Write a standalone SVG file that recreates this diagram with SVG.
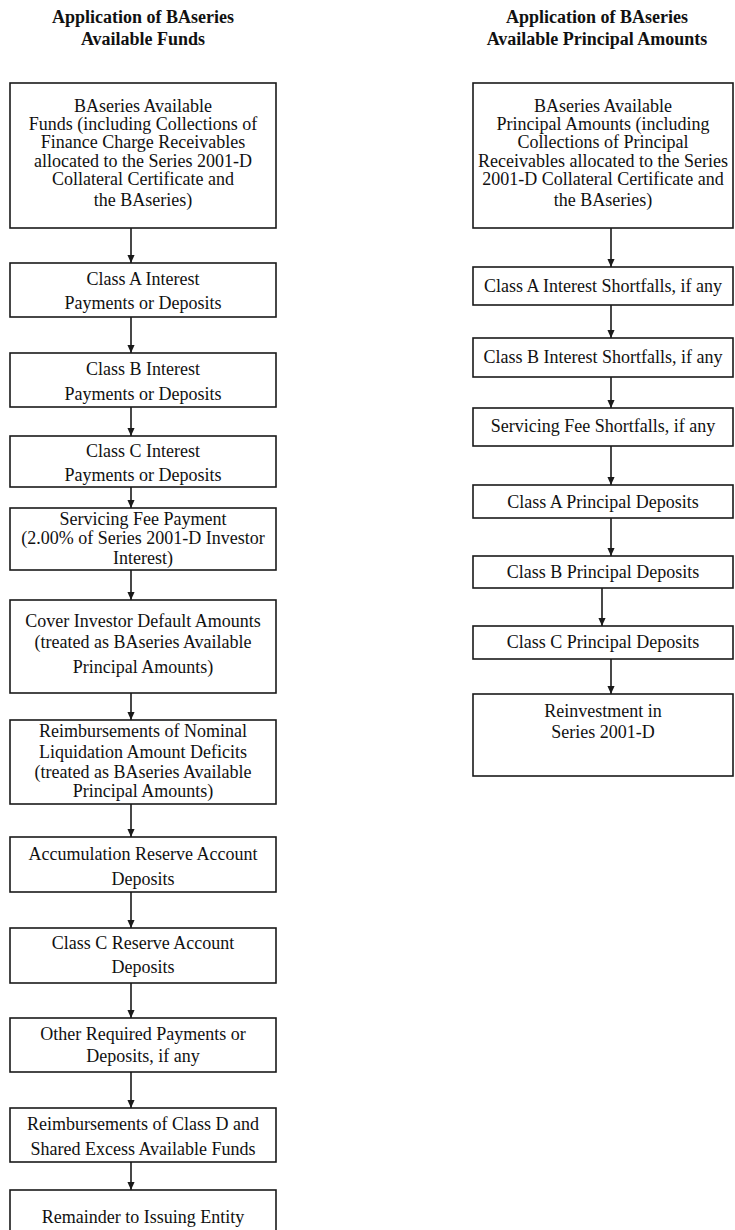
<svg xmlns="http://www.w3.org/2000/svg" width="735" height="1230" viewBox="0 0 735 1230">
<defs>
<style>
.box{fill:#fff;stroke:#1a1a1a;stroke-width:1.6}
.t{font-family:"Liberation Serif","Times New Roman",serif;font-size:18px;fill:#111;text-anchor:middle}
.h{font-family:"Liberation Serif","Times New Roman",serif;font-size:18px;font-weight:bold;fill:#111;text-anchor:middle}
.c{stroke:#1a1a1a;stroke-width:1.6;fill:none}
</style>
<marker id="arr" markerUnits="userSpaceOnUse" markerWidth="8" markerHeight="9" refX="9" refY="4" orient="auto" viewBox="0 0 9 8">
<path d="M0,0 L9,4 L0,8 Z" fill="#1a1a1a"/>
</marker>
</defs>
<rect width="735" height="1230" fill="#fff"/>
<g id="titles">
<text class="h" x="143" y="23">Application of BAseries</text>
<text class="h" x="143" y="45">Available Funds</text>
<text class="h" x="597" y="23">Application of BAseries</text>
<text class="h" x="597" y="45">Available Principal Amounts</text>
</g>
<g id="connectors">
<line class="c" x1="131" y1="228" x2="131" y2="263" marker-end="url(#arr)"/>
<line class="c" x1="131" y1="317" x2="131" y2="353" marker-end="url(#arr)"/>
<line class="c" x1="131" y1="407" x2="131" y2="436" marker-end="url(#arr)"/>
<line class="c" x1="131" y1="487" x2="131" y2="508" marker-end="url(#arr)"/>
<line class="c" x1="131" y1="570" x2="131" y2="600" marker-end="url(#arr)"/>
<line class="c" x1="131" y1="693" x2="131" y2="720" marker-end="url(#arr)"/>
<line class="c" x1="131" y1="804" x2="131" y2="837" marker-end="url(#arr)"/>
<line class="c" x1="131" y1="892" x2="131" y2="928" marker-end="url(#arr)"/>
<line class="c" x1="131" y1="983" x2="131" y2="1018" marker-end="url(#arr)"/>
<line class="c" x1="131" y1="1072" x2="131" y2="1108" marker-end="url(#arr)"/>
<line class="c" x1="131" y1="1162" x2="131" y2="1190" marker-end="url(#arr)"/>
<line class="c" x1="611" y1="228" x2="611" y2="267" marker-end="url(#arr)"/>
<line class="c" x1="611" y1="305" x2="611" y2="338" marker-end="url(#arr)"/>
<line class="c" x1="611" y1="377" x2="611" y2="408" marker-end="url(#arr)"/>
<line class="c" x1="611" y1="446" x2="611" y2="485" marker-end="url(#arr)"/>
<line class="c" x1="611" y1="518" x2="611" y2="556" marker-end="url(#arr)"/>
<line class="c" x1="602" y1="588" x2="602" y2="626" marker-end="url(#arr)"/>
<line class="c" x1="611" y1="659" x2="611" y2="694" marker-end="url(#arr)"/>
</g>
<g id="L1"><rect class="box" x="10" y="83" width="266" height="145"/>
<text class="t" x="143" y="112">BAseries Available</text>
<text class="t" x="143" y="130">Funds (including Collections of</text>
<text class="t" x="143" y="148">Finance Charge Receivables</text>
<text class="t" x="143" y="167">allocated to the Series 2001-D</text>
<text class="t" x="143" y="185">Collateral Certificate and</text>
<text class="t" x="143" y="206">the BAseries)</text></g>
<g id="L2"><rect class="box" x="10" y="263" width="266" height="54"/>
<text class="t" x="143" y="285">Class A Interest</text>
<text class="t" x="143" y="309">Payments or Deposits</text></g>
<g id="L3"><rect class="box" x="10" y="353" width="266" height="54"/>
<text class="t" x="143" y="375">Class B Interest</text>
<text class="t" x="143" y="400">Payments or Deposits</text></g>
<g id="L4"><rect class="box" x="10" y="436" width="266" height="51"/>
<text class="t" x="143" y="457">Class C Interest</text>
<text class="t" x="143" y="481">Payments or Deposits</text></g>
<g id="L5"><rect class="box" x="10" y="508" width="266" height="62"/>
<text class="t" x="143" y="525">Servicing Fee Payment</text>
<text class="t" x="143" y="544">(2.00% of Series 2001-D Investor</text>
<text class="t" x="143" y="564">Interest)</text></g>
<g id="L6"><rect class="box" x="10" y="600" width="266" height="93"/>
<text class="t" x="143" y="627">Cover Investor Default Amounts</text>
<text class="t" x="143" y="648">(treated as BAseries Available</text>
<text class="t" x="143" y="673">Principal Amounts)</text></g>
<g id="L7"><rect class="box" x="10" y="720" width="266" height="84"/>
<text class="t" x="143" y="737">Reimbursements of Nominal</text>
<text class="t" x="143" y="758">Liquidation Amount Deficits</text>
<text class="t" x="143" y="778">(treated as BAseries Available</text>
<text class="t" x="143" y="797">Principal Amounts)</text></g>
<g id="L8"><rect class="box" x="10" y="837" width="266" height="55"/>
<text class="t" x="143" y="860">Accumulation Reserve Account</text>
<text class="t" x="143" y="885">Deposits</text></g>
<g id="L9"><rect class="box" x="10" y="928" width="266" height="55"/>
<text class="t" x="143" y="949">Class C Reserve Account</text>
<text class="t" x="143" y="973">Deposits</text></g>
<g id="L10"><rect class="box" x="10" y="1018" width="266" height="54"/>
<text class="t" x="143" y="1040">Other Required Payments or</text>
<text class="t" x="143" y="1062">Deposits, if any</text></g>
<g id="L11"><rect class="box" x="10" y="1108" width="266" height="54"/>
<text class="t" x="143" y="1130">Reimbursements of Class D and</text>
<text class="t" x="143" y="1155">Shared Excess Available Funds</text></g>
<g id="L12"><rect class="box" x="10" y="1190" width="266" height="60"/>
<text class="t" x="143" y="1223">Remainder to Issuing Entity</text></g>
<g id="R1"><rect class="box" x="473" y="83" width="260" height="145"/>
<text class="t" x="603" y="112">BAseries Available</text>
<text class="t" x="603" y="130">Principal Amounts (including</text>
<text class="t" x="603" y="148">Collections of Principal</text>
<text class="t" x="603" y="167">Receivables allocated to the Series</text>
<text class="t" x="603" y="185">2001-D Collateral Certificate and</text>
<text class="t" x="603" y="206">the BAseries)</text></g>
<g id="R2"><rect class="box" x="473" y="267" width="260" height="38"/>
<text class="t" x="603" y="292">Class A Interest Shortfalls, if any</text></g>
<g id="R3"><rect class="box" x="473" y="338" width="260" height="39"/>
<text class="t" x="603" y="363">Class B Interest Shortfalls, if any</text></g>
<g id="R4"><rect class="box" x="473" y="408" width="260" height="38"/>
<text class="t" x="603" y="432">Servicing Fee Shortfalls, if any</text></g>
<g id="R5"><rect class="box" x="473" y="485" width="260" height="33"/>
<text class="t" x="603" y="508">Class A Principal Deposits</text></g>
<g id="R6"><rect class="box" x="473" y="556" width="260" height="32"/>
<text class="t" x="603" y="578">Class B Principal Deposits</text></g>
<g id="R7"><rect class="box" x="473" y="626" width="260" height="33"/>
<text class="t" x="603" y="648">Class C Principal Deposits</text></g>
<g id="R8"><rect class="box" x="473" y="694" width="260" height="82"/>
<text class="t" x="603" y="717">Reinvestment in</text>
<text class="t" x="603" y="738">Series 2001-D</text></g>
</svg>
